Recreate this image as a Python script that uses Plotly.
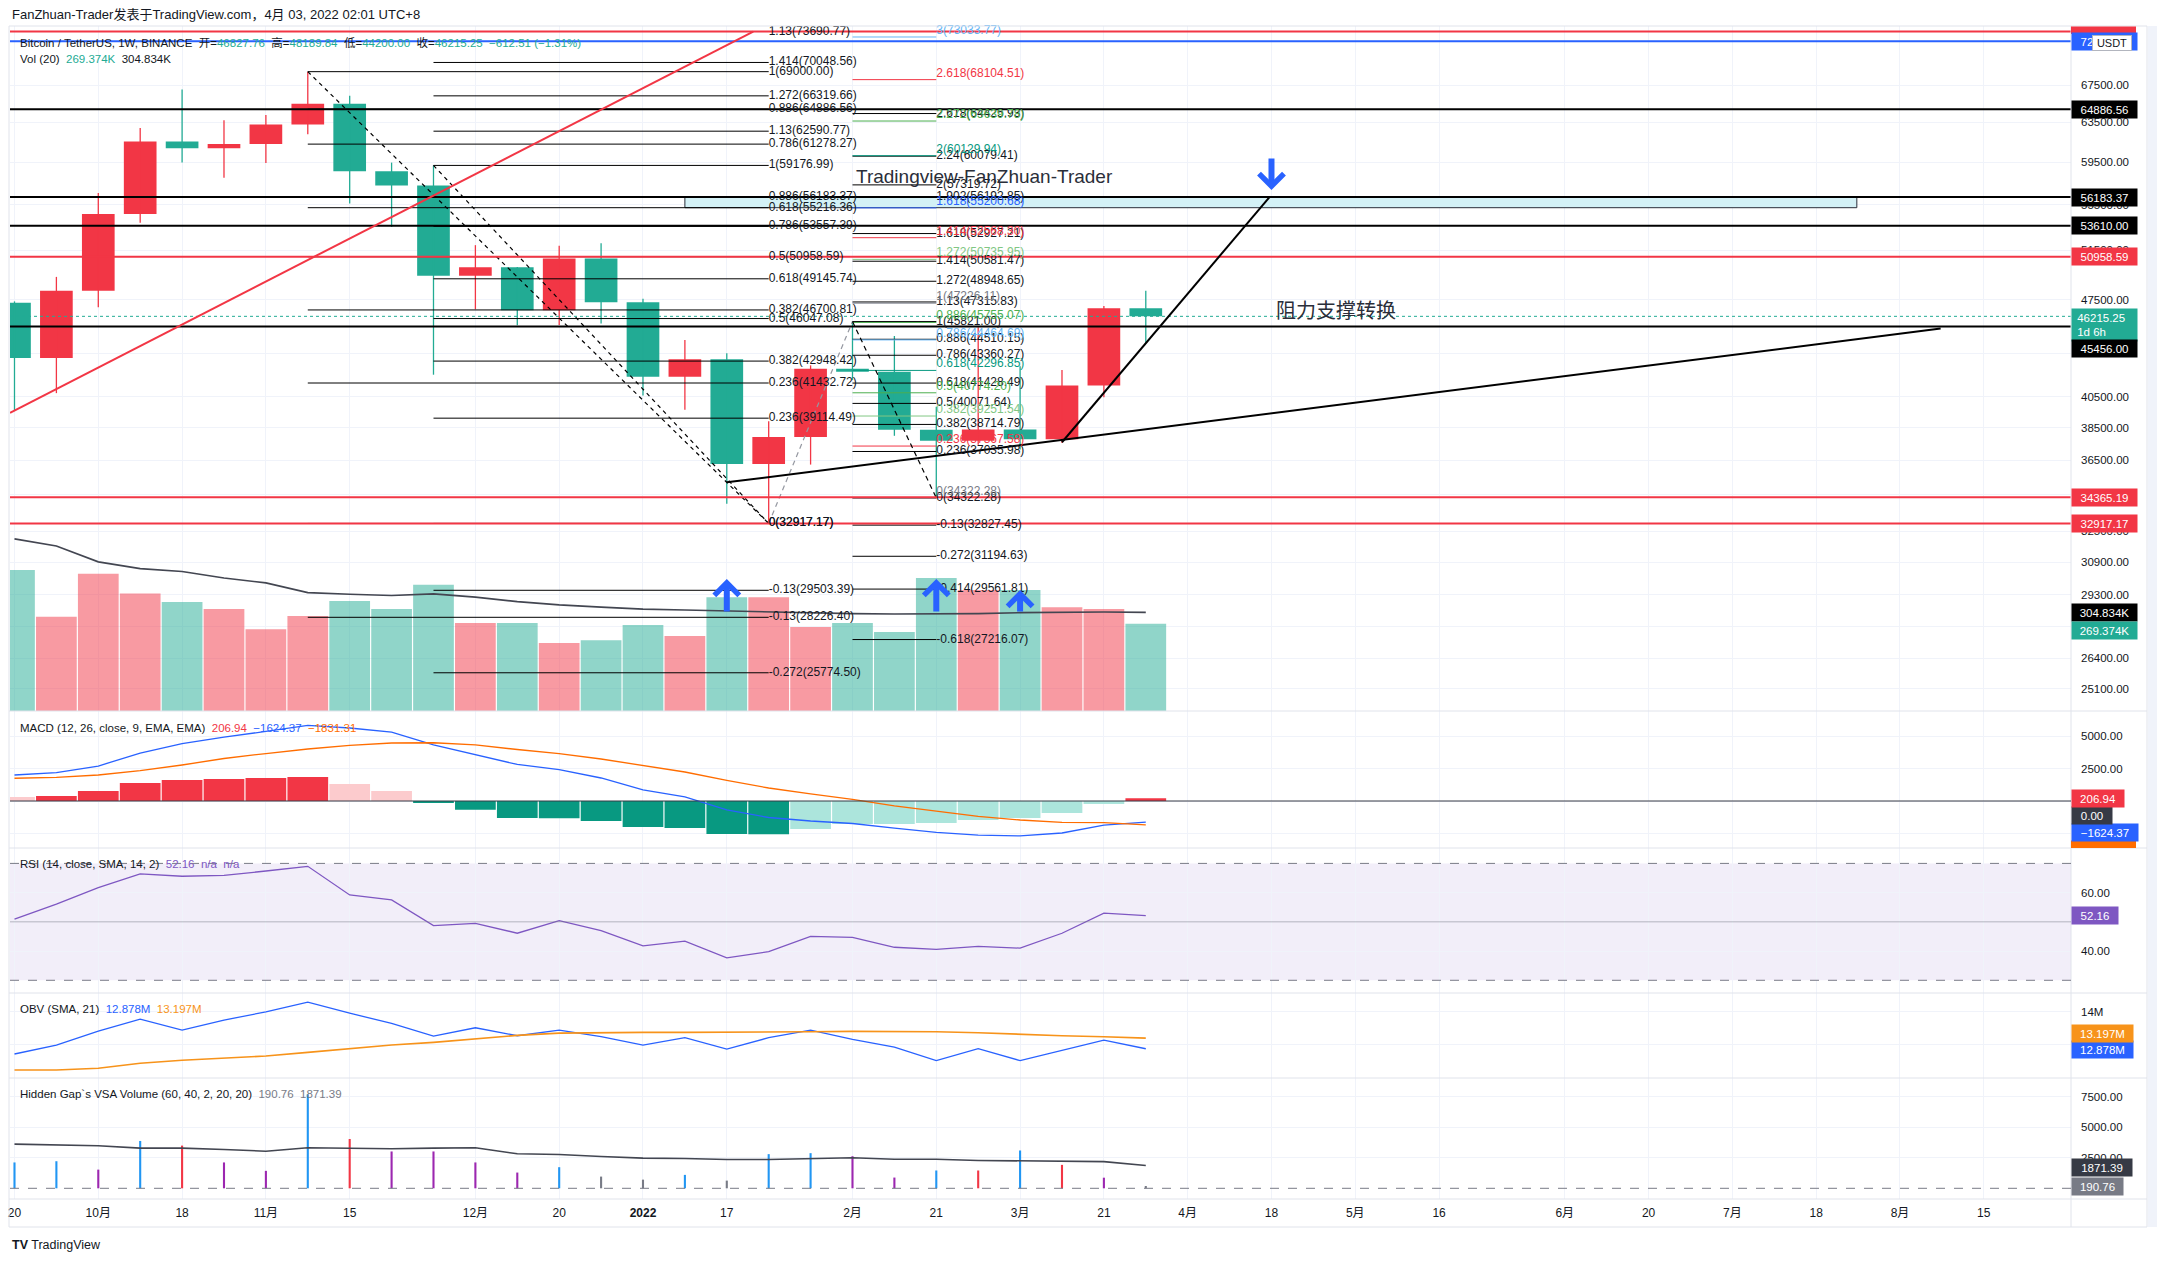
import numpy as np
import pandas as pd
import plotly.graph_objects as go

W, H = 2157, 1262
FONT = "Liberation Sans, Arial, Noto Sans CJK SC, sans-serif"
TXT = "#131722"
TEAL = "#22AB94"
RED = "#F23645"
BLUE = "#2962FF"
ORANGE = "#FF6D00"
GRID = "#F0F3FA"
SEP = "#E0E3EB"

# ---------------------------------------------------------------- data
week_start = pd.date_range("2021-09-20", periods=28, freq="7D")
opens = [47260, 43160, 48200, 54660, 61530, 60860, 61300, 63270, 65470, 58620, 57270, 49400, 50080, 46680,
         50800, 47290, 41860, 43080, 36280, 37920, 42410, 42200, 38380, 37700, 38400, 37780, 41260, 46827.76]
highs = [47360, 49300, 56560, 62930, 67000, 63710, 64270, 69000, 66340, 59450, 59170, 51930, 50100, 51880,
         52090, 47570, 44460, 43500, 38920, 42650, 45821, 44750, 39850, 45400, 42590, 42325, 47000, 48189.84]
lows = [39600, 40750, 46900, 53880, 59470, 58000, 59400, 62280, 55600, 53500, 42000, 46750, 45550, 45560,
        45680, 40600, 39650, 34000, 32917.17, 36250, 41640, 38000, 34322.28, 37450, 37150, 37550, 40470, 44200]
closes = [43160, 48200, 54660, 61530, 60860, 61300, 63270, 65470, 58620, 57270, 49400, 50080, 46680, 50800,
          47290, 41860, 43080, 36280, 37920, 42410, 42200, 38380, 37700, 38400, 37780, 41260, 46827.76, 46215.25]
volume_k = [436, 291, 424, 363, 337, 315, 253, 294, 340, 315, 390, 272, 272, 210, 219, 266, 232, 352, 352,
            260, 272, 244, 411, 374, 374, 321, 315, 269.374]
vol_ma_k = [532, 510, 461, 440, 431, 411, 396, 366, 361, 357, 362, 352, 338, 328, 321, 315, 312, 309, 306,
            303, 301, 300, 300, 301, 304, 306, 306, 304.834]
macd_line = [2000, 2177, 2690, 3690, 4420, 4920, 5350, 5810, 5615, 5300, 4310, 3540, 2810, 2420, 1770, 850,
             310, -690, -1270, -1540, -1730, -2080, -2420, -2620, -2690, -2460, -1850, -1624.37]
signal_line = [1750, 1820, 2000, 2330, 2770, 3270, 3650, 4000, 4280, 4460, 4480, 4310, 3960, 3650, 3230, 2730,
               2230, 1580, 1000, 540, 130, -380, -770, -1190, -1460, -1640, -1670, -1831.31]
macd_hist = [300, 385, 770, 1385, 1615, 1690, 1770, 1850, 1310, 770, -130, -670, -1310, -1320, -1540, -2000,
             -2080, -2540, -2550, -2150, -1770, -1760, -1690, -1460, -1310, -920, -230, 206.94]
rsi = [50.9, 56.1, 61.7, 66.4, 65.6, 65.9, 67.4, 69.0, 59.2, 57.5, 48.7, 49.5, 46.1, 50.4, 47.0, 41.8, 43.4,
       37.7, 39.8, 45.0, 44.7, 41.3, 40.6, 41.6, 41.0, 46.1, 53.0, 52.16]
obv_m = [12.72, 12.99, 13.41, 13.77, 13.44, 13.74, 13.99, 14.28, 13.95, 13.64, 13.26, 13.51, 13.27, 13.44,
         13.24, 12.99, 13.21, 12.87, 13.21, 13.44, 13.16, 12.93, 12.52, 12.88, 12.52, 12.84, 13.14, 12.878]
obv_sma_m = [12.24, 12.24, 12.29, 12.44, 12.53, 12.60, 12.66, 12.77, 12.89, 12.99, 13.07, 13.18, 13.28, 13.35,
             13.37, 13.37, 13.37, 13.37, 13.37, 13.39, 13.40, 13.40, 13.39, 13.36, 13.31, 13.27, 13.24, 13.197]
vsa_vals = [2120, 2220, 1530, 3880, 3500, 2120, 1430, 7700, 4040, 3020, 3020, 2120, 1290, 1730, 960, 710, 1100,
            630, 2800, 2880, 2630, 880, 1460, 1460, 3100, 1920, 870, 190.76]
vsa_class = ["b", "b", "p", "b", "r", "p", "p", "b", "r", "p", "p", "p", "p", "b", "g", "g", "b", "g", "b", "b",
             "p", "p", "b", "r", "b", "r", "p", "g"]
vsa_avg = [3620, 3570, 3490, 3290, 3290, 3180, 3040, 3320, 3270, 3240, 3290, 3320, 2830, 2770, 2610, 2470, 2440,
           2360, 2360, 2440, 2500, 2380, 2380, 2280, 2250, 2220, 2190, 1871.39]

# axis ranges / ticks
X_LEFT, X_RIGHT = "2021-09-19 06:00", "2022-08-29 13:40"
PRICE_MIN, PRICE_MAX = 24210, 74360
VOL_AXIS_MAX = 2117500
MACD_RANGE = [-3615, 6923]
RSI_RANGE = [25.65, 75.27]
OBV_RANGE = [11.997e6, 14.557e6]
VSA_RANGE = [-877, 9041]
PRICE_TICKS = [67500, 63500, 59500, 55500, 51500, 47500, 43500, 40500, 38500, 36500, 34500, 32500, 30900,
               29300, 27800, 26400, 25100]
XTICK_DATES = ["2021-09-20", "2021-10-04", "2021-10-18", "2021-11-01", "2021-11-15", "2021-12-06", "2021-12-20",
               "2022-01-03", "2022-01-17", "2022-02-07", "2022-02-21", "2022-03-07", "2022-03-21", "2022-04-04",
               "2022-04-18", "2022-05-02", "2022-05-16", "2022-06-06", "2022-06-20", "2022-07-04", "2022-07-18",
               "2022-08-01", "2022-08-15"]
XTICK_TEXT = ["20", "10月", "18", "11月", "15", "12月", "20", "<b>2022</b>", "17", "2月", "21", "3月", "21", "4月",
              "18", "5月", "16", "6月", "20", "7月", "18", "8月", "15"]

# horizontal levels
HLINE_PRICES = [73690.77, 72536.17, 64886.56, 56183.37, 53610.00, 50958.59, 45456.00, 34365.19, 32917.17]
HLINE_KIND = ["r", "b", "k", "k", "k", "r", "k", "r", "r"]

# fib retracements / extensions
FIB_A_X = ["2021-11-08", "2022-01-24"]
FIB_A_RATIO = ["-0.13", "0", "0.236", "0.382", "0.5", "0.618", "0.786", "0.886", "1", "1.13"]
FIB_A_PRICE = [28226.40, 32917.17, 41432.72, 46700.81, 50958.59, 55216.36, 61278.27, 64886.56, 69000.00, 73690.77]
FIB_B_X = ["2021-11-29", "2022-01-24"]
FIB_B_RATIO = ["-0.272", "-0.13", "0", "0.236", "0.382", "0.5", "0.618", "0.786", "0.886", "1", "1.13", "1.272",
               "1.414"]
FIB_B_PRICE = [25774.50, 29503.39, 32917.17, 39114.49, 42948.42, 46047.08, 49145.74, 53557.39, 56183.37, 59176.99,
               62590.77, 66319.66, 70048.56]
FIB_C_X = ["2022-02-07", "2022-02-21"]
FIB_C1_RATIO = ["-0.618", "-0.414", "-0.272", "-0.13", "0", "0.236", "0.382", "0.5", "0.618", "0.786", "0.886",
                "1", "1.13", "1.272", "1.414", "1.618", "1.902", "2", "2.24", "2.618"]
FIB_C1_PRICE = [27216.07, 29561.81, 31194.63, 32827.45, 34322.28, 37035.98, 38714.79, 40071.64, 41428.49,
                43360.27, 44510.15, 45821.00, 47315.83, 48948.65, 50581.47, 52927.21, 56192.85, 57319.72,
                60079.41, 64425.93]
FIB_C2_RATIO = ["0", "0.236", "0.382", "0.5", "0.618", "0.786", "0.886", "1", "1.272", "1.414", "1.618", "2",
                "2.272", "2.618", "3"]
FIB_C2_PRICE = [34322.28, 37367.58, 39251.54, 40774.20, 42296.85, 44464.69, 45755.07, 47226.11, 50735.95,
                52568.30, 55200.68, 60129.94, 63639.78, 68104.51, 73033.77]
FIB_A_PTS = (["2021-11-08", "2022-01-24"], [69000.00, 32917.17])
FIB_B_PTS = (["2021-11-29", "2022-01-24"], [59176.99, 32917.17])
EXT_AB = (["2022-01-24", "2022-02-07"], [32917.17, 45821.00])
EXT_BC = (["2022-02-07", "2022-02-21"], [45821.00, 34322.28])
RED_TREND = (["2021-09-19 06:00", "2022-01-21 10:00"], [39460, 73690.77])
SUPPORT = (["2022-01-17", "2022-08-07 19:00"], [35210, 45300])
BREAKOUT = (["2022-03-14", "2022-04-17 16:00"], [37600, 56183.37])
ZONE_X = ["2022-01-10", "2022-07-24 19:00"]
ZONE_P = [55216.36, 56183.37]
LAST_PRICE = 46215.25

# ---------------------------------------------------------------- styles
HL_COLOR = {"r": RED, "b": BLUE, "k": "#000000"}
C2_COLOR = {"0": "#787B86", "0.236": RED, "0.382": "#81C784", "0.5": "#4CAF50", "0.618": "#089981",
            "0.786": "#64B5F6", "0.886": "#4CAF50", "1": "#787B86", "1.272": "#81C784", "1.414": RED,
            "1.618": BLUE, "2": "#089981", "2.272": "#4CAF50", "2.618": RED, "3": "#64B5F6"}
VSA_COLOR = {"b": "#2196F3", "r": RED, "p": "#9C27B0", "g": "#787B86"}
WEEK = 7 * 24 * 3600 * 1000


def px_x(x):
    return x / W


def px_y(y):
    return 1 - y / H


fig = go.Figure()
n = len(week_start)
is_up = [c > o for o, c in zip(opens, closes)]

# volume (base axis of main pane)
fig.add_trace(go.Bar(x=week_start, y=np.array(volume_k) * 1000, width=0.972 * WEEK, yaxis="y",
                     marker=dict(color=["rgba(242,54,69,0.5)" if u else "rgba(34,171,148,0.5)" for u in is_up],
                                 line=dict(width=0))))
fig.add_trace(go.Scatter(x=week_start, y=np.array(vol_ma_k) * 1000, mode="lines", yaxis="y",
                         line=dict(color="#434651", width=1.6)))

# accent zone rectangle
fig.add_trace(go.Scatter(x=[ZONE_X[0], ZONE_X[1], ZONE_X[1], ZONE_X[0], ZONE_X[0]],
                         y=[ZONE_P[0], ZONE_P[0], ZONE_P[1], ZONE_P[1], ZONE_P[0]], mode="lines", fill="toself",
                         fillcolor="#D3F1F6", line=dict(color="#2A2E39", width=1), yaxis="y2"))

# candles
for flag, col in [(True, RED), (False, TEAL)]:
    idx = [i for i in range(n) if is_up[i] == flag]
    wx, wy = [], []
    for i in idx:
        wx += [week_start[i], week_start[i], None]
        wy += [lows[i], highs[i], None]
    fig.add_trace(go.Scatter(x=wx, y=wy, mode="lines", line=dict(color=col, width=1.3), yaxis="y2"))
    fig.add_trace(go.Bar(x=[week_start[i] for i in idx], base=[min(opens[i], closes[i]) for i in idx],
                         y=[max(abs(closes[i] - opens[i]), 1) for i in idx], width=0.78 * WEEK, yaxis="y2",
                         marker=dict(color=col, line=dict(width=0))))


def seg(xs2, prices, color, width=1.0, dash=None):
    xs, ys = [], []
    for p in prices:
        xs += [xs2[0], xs2[1], None]
        ys += [p, p, None]
    fig.add_trace(go.Scatter(x=xs, y=ys, mode="lines", yaxis="y2",
                             line=dict(color=color, width=width, dash=dash)))


def line2(pts, color, width=1.0, dash=None):
    fig.add_trace(go.Scatter(x=pts[0], y=pts[1], mode="lines", yaxis="y2",
                             line=dict(color=color, width=width, dash=dash)))


def labels(x, prices, ratios, colors, pos):
    fig.add_trace(go.Scatter(x=[x] * len(prices), y=prices, mode="text", yaxis="y2", cliponaxis=False,
                             text=[f"{r}({p:.2f})" for r, p in zip(ratios, prices)], textposition=pos,
                             textfont=dict(family=FONT, size=12, color=colors)))


seg(FIB_A_X, FIB_A_PRICE, "#000000")
seg(FIB_B_X, FIB_B_PRICE, "#000000")
seg(FIB_C_X, FIB_C1_PRICE, "#000000")
for r, p in zip(FIB_C2_RATIO, FIB_C2_PRICE):
    seg(FIB_C_X, [p], C2_COLOR[r])
line2(FIB_A_PTS, "#000000", 1.2, "4px,4px")
line2(FIB_B_PTS, "#000000", 1.2, "4px,4px")
line2(EXT_AB, "#9598A1", 1.2, "5px,4px")
line2(EXT_BC, "#000000", 1.2, "5px,4px")

for p, k in zip(HLINE_PRICES, HLINE_KIND):
    seg([X_LEFT, X_RIGHT], [p], HL_COLOR[k], 2)
seg([X_LEFT, X_RIGHT], [LAST_PRICE], TEAL, 1, "dot")
line2(RED_TREND, RED, 2)
line2(SUPPORT, "#000000", 2)
line2(BREAKOUT, "#000000", 2)

labels(FIB_A_X[1], FIB_A_PRICE, FIB_A_RATIO, "#131722", "middle right")
labels(FIB_B_X[1], FIB_B_PRICE, FIB_B_RATIO, "#131722", "middle right")
labels(FIB_C_X[1], FIB_C1_PRICE, FIB_C1_RATIO, "#131722", "middle right")
labels(FIB_C_X[1], FIB_C2_PRICE, FIB_C2_RATIO, [C2_COLOR[r] for r in FIB_C2_RATIO], "top right")

# MACD
hist_col = []
for i, v in enumerate(macd_hist):
    prev = macd_hist[i - 1] if i > 0 else v + 1
    if v >= 0:
        hist_col.append(RED if v > prev else "#FCCBCD")
    else:
        hist_col.append("#089981" if v < prev else "#ACE5DC")
fig.add_trace(go.Bar(x=week_start, y=macd_hist, width=0.972 * WEEK, yaxis="y3",
                     marker=dict(color=hist_col, line=dict(width=0))))
fig.add_trace(go.Scatter(x=week_start, y=macd_line, mode="lines", yaxis="y3", line=dict(color=BLUE, width=1.3)))
fig.add_trace(go.Scatter(x=week_start, y=signal_line, mode="lines", yaxis="y3",
                         line=dict(color=ORANGE, width=1.3)))
# RSI
fig.add_trace(go.Scatter(x=week_start, y=rsi, mode="lines", yaxis="y4", line=dict(color="#7E57C2", width=1.3)))
# OBV
fig.add_trace(go.Scatter(x=week_start, y=np.array(obv_m) * 1e6, mode="lines", yaxis="y5",
                         line=dict(color=BLUE, width=1.3)))
fig.add_trace(go.Scatter(x=week_start, y=np.array(obv_sma_m) * 1e6, mode="lines", yaxis="y5",
                         line=dict(color="#F7931A", width=1.6)))
# VSA
fig.add_trace(go.Bar(x=week_start, y=vsa_vals, width=0.05 * WEEK, yaxis="y6",
                     marker=dict(color=[VSA_COLOR[c] for c in vsa_class], line=dict(width=0))))
fig.add_trace(go.Scatter(x=week_start, y=vsa_avg, mode="lines", yaxis="y6", line=dict(color="#434651", width=1.6)))

# ---------------------------------------------------------------- shapes
shapes = []


def hsep(y, x0=9, x1=2147, color=SEP, width=1):
    shapes.append(dict(type="line", xref="paper", yref="paper", x0=px_x(x0), x1=px_x(x1), y0=px_y(y),
                       y1=px_y(y), line=dict(color=color, width=width)))


def vsep(x, y0=26, y1=1227, color=SEP, width=1):
    shapes.append(dict(type="line", xref="paper", yref="paper", x0=px_x(x), x1=px_x(x), y0=px_y(y0),
                       y1=px_y(y1), line=dict(color=color, width=width)))


for y in [26, 711, 848, 993, 1078, 1199, 1227]:
    hsep(y)
for x in [9, 2071, 2147]:
    vsep(x)
shapes.append(dict(type="rect", xref="paper", yref="paper", x0=px_x(2148), x1=1, y0=px_y(1227), y1=px_y(26),
                   fillcolor="#F0F3FA", line=dict(width=0)))
shapes.append(dict(type="rect", xref="x", yref="y4", x0=X_LEFT, x1=X_RIGHT, y0=30, y1=70,
                   fillcolor="rgba(126,87,194,0.1)", line=dict(width=0), layer="below"))
for v, c, d in [(70, "#787B86", "dash"), (30, "#787B86", "dash"), (50, "rgba(120,123,134,0.5)", "solid")]:
    shapes.append(dict(type="line", xref="x", yref="y4", x0=X_LEFT, x1=X_RIGHT, y0=v, y1=v,
                       line=dict(color=c, width=1, dash=d)))
shapes.append(dict(type="line", xref="x", yref="y3", x0=X_LEFT, x1=X_RIGHT, y0=0, y1=0,
                   line=dict(color="#363A45", width=1)))
shapes.append(dict(type="line", xref="x", yref="y6", x0=X_LEFT, x1=X_RIGHT, y0=0, y1=0,
                   line=dict(color="#787B86", width=1, dash="dash")))
# clipped axis tags (only their visible edge shows in the picture)
shapes.append(dict(type="rect", xref="paper", yref="paper", x0=px_x(2071), x1=px_x(2136), y0=px_y(34),
                   y1=px_y(26.5), fillcolor=RED, line=dict(width=0)))
shapes.append(dict(type="rect", xref="paper", yref="paper", x0=px_x(2071), x1=px_x(2136), y0=px_y(848),
                   y1=px_y(840.5), fillcolor=ORANGE, line=dict(width=0)))

# ---------------------------------------------------------------- annotations
ann = []


def note(text, x, y, size=11.5, color=TXT, xanchor="left", yanchor="middle"):
    ann.append(dict(text=text, x=px_x(x), y=px_y(y), xref="paper", yref="paper", xanchor=xanchor,
                    yanchor=yanchor, showarrow=False, font=dict(family=FONT, size=size, color=color)))


def tag(text, yref, yval, bg, width=61, yshift=0, fg="white", height=13, align="center", yanchor="middle"):
    ann.append(dict(text=text, x=px_x(2071), xref="paper", xanchor="left", y=yval, yref=yref, yanchor=yanchor,
                    yshift=yshift, showarrow=False, bgcolor=bg, width=width, height=height, align=align,
                    borderpad=2, font=dict(family=FONT, size=11.5, color=fg)))


def sp(n_):
    return "&nbsp;" * n_


note("FanZhuan-Trader发表于TradingView.com，4月 03, 2022 02:01 UTC+8", 10, 15, size=13)
tv = lambda s: f'<span style="color:{TEAL}">{s}</span>'
note("Bitcoin / TetherUS, 1W, BINANCE" + sp(2) + "开=" + tv("46827.76") + sp(2) + "高=" + tv("48189.84") + sp(2)
     + "低=" + tv("44200.00") + sp(2) + "收=" + tv("46215.25") + sp(2) + tv("−612.51 (−1.31%)"), 18, 42.5)
note("Vol (20)" + sp(2) + tv("269.374K") + sp(2) + "304.834K", 18, 58.5)
note("MACD (12, 26, close, 9, EMA, EMA)" + sp(2) + f'<span style="color:{RED}">206.94</span>' + sp(2)
     + f'<span style="color:{BLUE}">−1624.37</span>' + sp(2) + f'<span style="color:{ORANGE}">−1831.31</span>',
     18, 728)
note("RSI (14, close, SMA, 14, 2)" + sp(2) + '<span style="color:#7E57C2">52.16</span>' + sp(2)
     + '<span style="color:#7E57C2">n/a</span>' + sp(2) + '<span style="color:#7E57C2">n/a</span>', 18, 864)
note("OBV (SMA, 21)" + sp(2) + f'<span style="color:{BLUE}">12.878M</span>' + sp(2)
     + '<span style="color:#F7931A">13.197M</span>', 18, 1009)
note("Hidden Gap`s VSA Volume (60, 40, 2, 20, 20)" + sp(2) + '<span style="color:#787B86">190.76</span>' + sp(2)
     + '<span style="color:#787B86">1871.39</span>', 18, 1094)
note("<b>TV</b> TradingView", 10, 1245, size=12.5)

ann.append(dict(text="Tradingview-FanZhuan-Trader", x="2022-02-07", xref="x", xshift=2, y=px_y(176),
                yref="paper", xanchor="left", yanchor="middle", showarrow=False,
                font=dict(family=FONT, size=19, color="#2A2E39")))
ann.append(dict(text="阻力支撑转换", x="2022-04-18", xref="x", xshift=3, y=px_y(311), yref="paper",
                xanchor="left", yanchor="middle", showarrow=False,
                font=dict(family=FONT, size=20, color="#2A2E39")))

for d, tip, tail in [("2022-01-17", 579, 34), ("2022-02-21", 579, 34), ("2022-03-07", 590, 23),
                     ("2022-04-18", 190, -33)]:
    ann.append(dict(text="", x=d, xref="x", y=px_y(tip), yref="paper", ax=0, ay=tail, showarrow=True,
                    arrowhead=4, arrowwidth=6, arrowsize=0.8, arrowcolor=BLUE, standoff=0))

# axis tags
L = np.log10
tag("72536.17", "y2", L(72536.17), BLUE)
ann.append(dict(text="USDT", x=px_x(2112), y=px_y(42.7), xref="paper", yref="paper", xanchor="center",
                yanchor="middle", showarrow=False, bgcolor="white", bordercolor="#B2B5BE", borderwidth=1,
                borderpad=1, width=36, height=12, font=dict(family=FONT, size=11, color=TXT)))
tag("64886.56", "y2", L(64886.56), "#000000")
tag("56183.37", "y2", L(56183.37), "#000000")
tag("53610.00", "y2", L(53610.00), "#000000")
tag("50958.59", "y2", L(50958.59), RED)
tag(sp(1) + "46215.25<br>" + sp(1) + "1d 6h", "y2", L(46215.25), TEAL, height=28, align="left",
    yanchor="top", yshift=8)
tag("45456.00", "y2", L(45456.00), "#000000", yshift=-22)
tag("34365.19", "y2", L(34365.19), RED)
tag("32917.17", "y2", L(32917.17), RED)
tag("304.834K", "y", 304834, "#000000")
tag("269.374K", "y", 269374, TEAL, yshift=-6.5)
tag("−1624.37", "y3", -1624.37, BLUE, width=62, yshift=-10)
tag("0.00", "y3", 0, "#363A45", width=36, yshift=-14)
tag("206.94", "y3", 206.94, RED, width=48)
tag("52.16", "y4", 52.16, "#7E57C2", width=42)
tag("12.878M", "y5", 12.878e6, BLUE, width=57, yshift=-1)
tag("13.197M", "y5", 13.197e6, "#F7931A", width=57, yshift=5)
tag("1871.39", "y6", 1871.39, "#363A45", width=56, yshift=-2)
tag("190.76", "y6", 190.76, "#787B86", width=47, yshift=-1)


def yax(dom, rng, tickvals, ticktext, **kw):
    d = dict(domain=[px_y(dom[1]), px_y(dom[0])], range=rng, side="right", anchor="x", tickvals=tickvals,
             ticktext=ticktext, showgrid=True, gridcolor=GRID, ticks="", ticklabelstandoff=9, zeroline=False,
             showline=False, automargin=False, fixedrange=True, tickfont=dict(family=FONT, size=11.5, color=TXT))
    d.update(kw)
    return d


fig.update_layout(
    width=W, height=H, margin=dict(l=0, r=0, t=0, b=0), template="none", paper_bgcolor="white",
    plot_bgcolor="white", showlegend=False, barmode="overlay", hovermode=False,
    font=dict(family=FONT, size=11.5, color=TXT), shapes=shapes, annotations=ann,
    xaxis=dict(type="date", domain=[px_x(10), px_x(2071)], range=[X_LEFT, X_RIGHT], anchor="y6",
               tickvals=XTICK_DATES, ticktext=XTICK_TEXT, showgrid=True, gridcolor=GRID, ticks="",
               showline=False, zeroline=False, ticklabelstandoff=5, automargin=False, fixedrange=True,
               tickfont=dict(family=FONT, size=12, color=TXT)),
    yaxis=dict(domain=[px_y(711), px_y(26)], range=[0, VOL_AXIS_MAX], visible=False, fixedrange=True),
    yaxis2=yax((26, 711), [L(PRICE_MIN), L(PRICE_MAX)], PRICE_TICKS, [f"{v:.2f}" for v in PRICE_TICKS],
               type="log", overlaying="y"),
    yaxis3=yax((711, 848), MACD_RANGE, [5000, 2500, 0, -2500], ["5000.00", "2500.00", "0.00", "−2500.00"]),
    yaxis4=yax((848, 993), RSI_RANGE, [60, 40], ["60.00", "40.00"]),
    yaxis5=yax((993, 1078), OBV_RANGE, [14e6, 13e6], ["14M", "13M"]),
    yaxis6=yax((1078, 1199), VSA_RANGE, [7500, 5000, 2500], ["7500.00", "5000.00", "2500.00"]),
)

fig.write_html("out.html")
